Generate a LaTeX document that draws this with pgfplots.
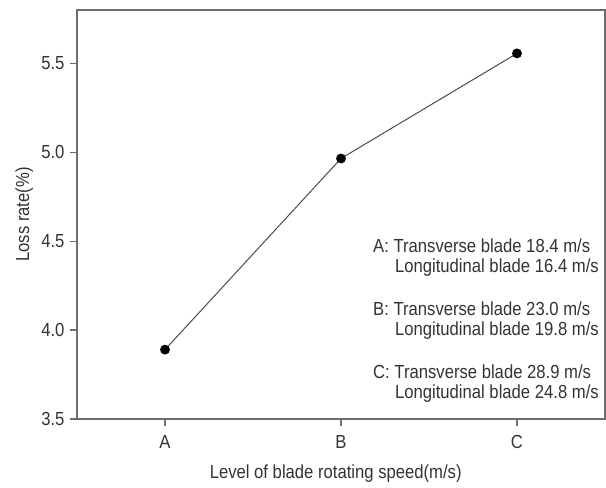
\documentclass[border=0pt]{standalone}
\usepackage{fontspec}
\setmainfont{Liberation Sans}[FakeStretch=0.88]
\usepackage{pgfplots}
\pgfplotsset{compat=1.18}
\definecolor{axgray}{HTML}{6E6E6E}
\definecolor{txtgray}{HTML}{333333}
\begin{document}
\begin{tikzpicture}
\useasboundingbox (0,0) rectangle (606bp,488bp);
\begin{axis}[
  at={(77bp,69bp)}, anchor=south west,
  scale only axis, width=528bp, height=409bp,
  xmin=-0.5, xmax=2.5, ymin=3.5, ymax=5.8,
  xtick={0,1,2}, xticklabels={A,B,C},
  ytick={3.5,4.0,4.5,5.0,5.5},
  /pgf/number format/assume math mode=true,
  xtick pos=bottom, ytick pos=left,
  tick align=outside, major tick length=7bp,
  axis line style={draw=axgray, line width=1.3bp},
  every tick/.style={draw=axgray, line width=1.3bp},
  ticklabel style={font=\fontsize{19}{19}\selectfont, text=txtgray},
  xticklabel style={yshift=-6bp},
  yticklabel style={xshift=-2bp, /pgf/number format/.cd,fixed,fixed zerofill,precision=1},
  xlabel={Level of blade rotating speed(m/s)},
  ylabel={Loss rate(\%)},
  every axis x label/.style={at={(axis description cs:0.49,-0.134)}, anchor=center, font=\fontsize{19}{19}\selectfont, text=txtgray},
  every axis y label/.style={at={(axis description cs:-0.10,0.5)}, rotate=90, anchor=center, font=\fontsize{19}{19}\selectfont, text=txtgray},
  clip=false,
]
\addplot[color=black!70, line width=1bp, mark=*, mark size=4.4bp, mark options={fill=black, draw=black}]
  coordinates {(0,3.89) (1,4.965) (2,5.556)};
\begin{scope}[every node/.style={font=\fontsize{19}{19}\selectfont, text=txtgray, anchor=base west, inner sep=0pt}]
\node at (axis description cs:0.5606,0.408) {A: Transverse blade 18.4 m/s};
\node at (axis description cs:0.602,0.359) {Longitudinal blade 16.4 m/s};
\node at (axis description cs:0.5606,0.254) {B: Transverse blade 23.0 m/s};
\node at (axis description cs:0.602,0.205) {Longitudinal blade 19.8 m/s};
\node at (axis description cs:0.5606,0.098) {C: Transverse blade 28.9 m/s};
\node at (axis description cs:0.602,0.049) {Longitudinal blade 24.8 m/s};
\end{scope}
\end{axis}
\end{tikzpicture}
\end{document}
